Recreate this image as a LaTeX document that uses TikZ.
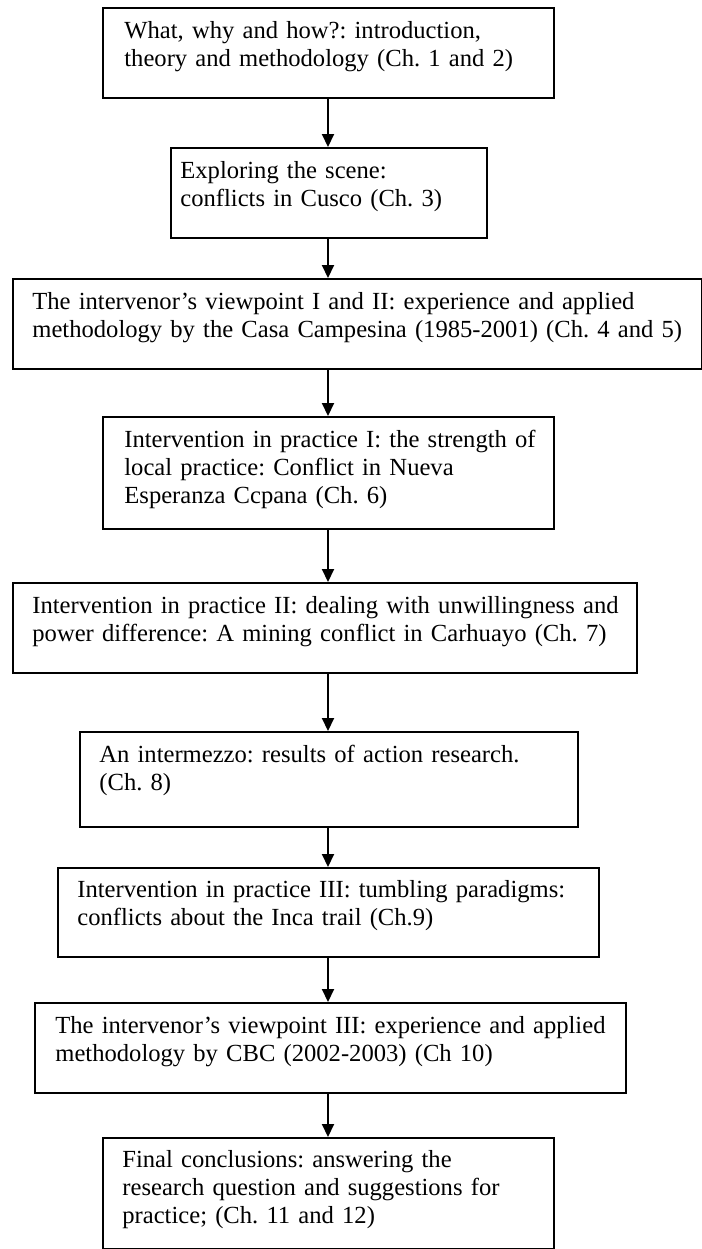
\documentclass[tikz,border=0pt]{standalone}
\usepackage{fontspec}
\setmainfont{Liberation Serif}
\usetikzlibrary{arrows.meta}
\frenchspacing
\begin{document}
\begin{tikzpicture}[x=0.5pt,y=-0.5pt,
  stage/.style={draw=black, line width=0.75pt, rectangle, inner sep=0pt, anchor=north west},
  caption/.style={anchor=base west, inner sep=0pt, align=left, text width=340pt,
                  font=\fontsize{12.3}{14.1}\selectfont},
  flow/.style={draw=black, line width=1pt, -{Triangle[length=6.5pt,width=6pt]}}]
\useasboundingbox (0,0) rectangle (702,1249);

% vertical spine along which the arrows run
\coordinate (spine) at (328,0);

% chapter boxes
\node[stage, minimum width=225.5pt, minimum height=45pt]   (b1) at (102,7)    {};
\node[stage, minimum width=158pt,   minimum height=45pt]   (b2) at (170,147)  {};
\node[stage, minimum width=344.5pt, minimum height=45pt]   (b3) at (12,278)   {};
\node[stage, minimum width=225.5pt, minimum height=56pt]   (b4) at (102,416)  {};
\node[stage, minimum width=312pt,   minimum height=45pt]   (b5) at (12,582)   {};
\node[stage, minimum width=249pt,   minimum height=47.5pt] (b6) at (79,731)   {};
\node[stage, minimum width=270.5pt, minimum height=44.5pt] (b7) at (57,867)   {};
\node[stage, minimum width=295.5pt, minimum height=45pt]   (b8) at (34,1002)  {};
\node[stage, minimum width=225.5pt, minimum height=55.5pt] (b9) at (102,1137) {};

% box texts
\node[caption] (t1) at (124,38)   {What, why and how?: introduction,\\theory and methodology (Ch. 1 and 2)};
\node[caption] (t2) at (180,178)  {Exploring the scene:\\conflicts in Cusco (Ch. 3)};
\node[caption] (t3) at (32,309)   {The intervenor’s viewpoint I and II: experience and applied\\methodology by the Casa Campesina (1985-2001) (Ch. 4 and 5)};
\node[caption] (t4) at (124,447)  {Intervention in practice I: the strength of\\local practice: Conflict in Nueva\\Esperanza Ccpana (Ch. 6)};
\node[caption] (t5) at (32,613)   {Intervention in practice II: dealing with unwillingness and\\power difference: A mining conflict in Carhuayo (Ch. 7)};
\node[caption] (t6) at (99,762)   {An intermezzo: results of action research.\\(Ch. 8)};
\node[caption] (t7) at (77,897)   {Intervention in practice III: tumbling paradigms:\\conflicts about the Inca trail (Ch.9)};
\node[caption] (t8) at (55,1033)  {The intervenor’s viewpoint III: experience and applied\\methodology by CBC (2002-2003) (Ch 10)};
\node[caption] (t9) at (122,1167) {Final conclusions: answering the\\research question and suggestions for\\practice; (Ch. 11 and 12)};

% arrows between consecutive boxes
\draw[flow] (b1.south -| spine) -- (b2.north -| spine);
\draw[flow] (b2.south -| spine) -- (b3.north -| spine);
\draw[flow] (b3.south -| spine) -- (b4.north -| spine);
\draw[flow] (b4.south -| spine) -- (b5.north -| spine);
\draw[flow] (b5.south -| spine) -- (b6.north -| spine);
\draw[flow] (b6.south -| spine) -- (b7.north -| spine);
\draw[flow] (b7.south -| spine) -- (b8.north -| spine);
\draw[flow] (b8.south -| spine) -- (b9.north -| spine);
\end{tikzpicture}
\end{document}
